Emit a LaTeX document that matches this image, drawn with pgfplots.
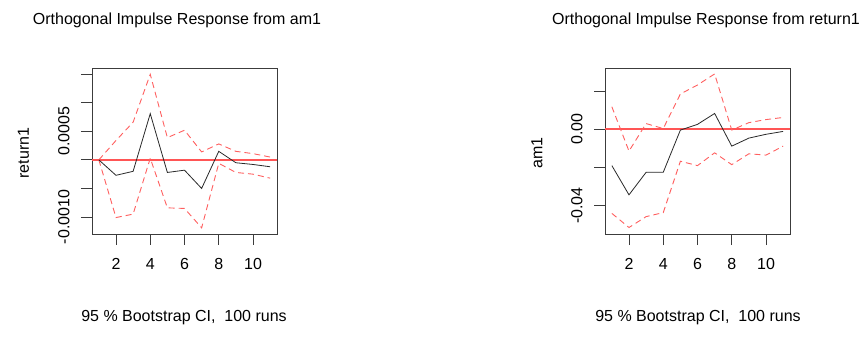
\documentclass[border=0pt]{standalone}
\usepackage{fontspec}
\setmainfont{Liberation Sans}
\usepackage{pgfplots}
\pgfplotsset{compat=1.18}

\definecolor{cired}{RGB}{255,95,95}
\definecolor{zerored}{RGB}{255,85,85}
\definecolor{framegray}{RGB}{60,60,60}
\definecolor{irfblack}{RGB}{40,40,40}

\newcommand{\lbl}{\fontsize{16bp}{19bp}\selectfont}

\pgfplotsset{
  irf/.style={
    scale only axis, width=185bp, height=166bp, anchor=south west,
    xmin=0.6, xmax=11.4,
    axis line style={framegray, line width=0.9bp},
    tick align=outside, xtick pos=bottom, ytick pos=left,
    major tick length=11bp,
    tick style={framegray, line width=0.9bp},
    scaled y ticks=false,
    xtick={2,4,6,8,10}, xticklabels={2,4,6,8,10},
    ticklabel style={font=\lbl},
    yticklabel style={rotate=90, anchor=south},
    xticklabel style={anchor=north},
    yticklabel shift=8bp, xticklabel shift=10bp,
  },
  resp/.style={irfblack, line width=0.8bp, no marks},
  band/.style={cired, line width=0.9bp, dash pattern=on 6bp off 4bp, no marks},
  zeroline/.style={zerored, line width=1.7bp, no marks},
}

\begin{document}
\begin{tikzpicture}
\path[use as bounding box] (0,0) rectangle (863bp,340bp);

% Response of return1 to a shock in am1
\begin{axis}[irf, at={(92bp,106bp)},
  ymin=-0.001298, ymax=0.001610,
  ytick={-0.001,-0.0005,0,0.0005,0.001,0.0015},
  yticklabels={-0.0010,,,0.0005,,}]
\addplot[zeroline] coordinates {(0.6,0) (11.4,0)};
\addplot[band] coordinates {(1,0) (2,0.00034) (3,0.00066) (4,0.00150) (5,0.00039) (6,0.00052) (7,0.00014) (8,0.00028) (9,0.00015) (10,0.00011) (11,0.00005)};
\addplot[band] coordinates {(1,0) (2,-0.00101) (3,-0.00095) (4,0.00003) (5,-0.00084) (6,-0.00085) (7,-0.00119) (8,-0.00006) (9,-0.00022) (10,-0.00025) (11,-0.00032)};
\addplot[resp] coordinates {(1,0) (2,-0.00027) (3,-0.00020) (4,0.00081) (5,-0.00022) (6,-0.00018) (7,-0.00050) (8,0.00015) (9,-0.00005) (10,-0.00008) (11,-0.00012)};
\end{axis}

% Response of am1 to a shock in return1
\begin{axis}[irf, at={(605bp,106bp)},
  ymin=-0.0548, ymax=0.0321,
  ytick={-0.04,-0.02,0,0.02},
  yticklabels={-0.04,,0.00,}]
\addplot[zeroline] coordinates {(0.6,0) (11.4,0)};
\addplot[band] coordinates {(1,0.0118) (2,-0.0114) (3,0.0030) (4,0.0004) (5,0.0185) (6,0.0232) (7,0.0290) (8,-0.0004) (9,0.0035) (10,0.0051) (11,0.0062)};
\addplot[band] coordinates {(1,-0.0440) (2,-0.0514) (3,-0.0457) (4,-0.0436) (5,-0.0167) (6,-0.0190) (7,-0.0123) (8,-0.0185) (9,-0.0128) (10,-0.0135) (11,-0.0088)};
\addplot[resp] coordinates {(1,-0.0190) (2,-0.0343) (3,-0.0225) (4,-0.0225) (5,-0.0004) (6,0.0026) (7,0.0083) (8,-0.0088) (9,-0.0046) (10,-0.0026) (11,-0.0011)};
\end{axis}

% titles, axis names and captions
\node[font=\lbl, inner sep=0pt] at (177bp,320bp) {Orthogonal Impulse Response from am1};
\node[font=\lbl, inner sep=0pt] at (706bp,320bp) {Orthogonal Impulse Response from return1};
\node[font=\lbl, inner sep=0pt, rotate=90] at (23.5bp,187bp) {return1};
\node[font=\lbl, inner sep=0pt, rotate=90] at (537bp,187bp) {am1};
\node[font=\lbl, inner sep=0pt] at (184bp,22bp) {95 \% Bootstrap CI,\ \ 100 runs};
\node[font=\lbl, inner sep=0pt] at (698bp,22bp) {95 \% Bootstrap CI,\ \ 100 runs};
\end{tikzpicture}
\end{document}
